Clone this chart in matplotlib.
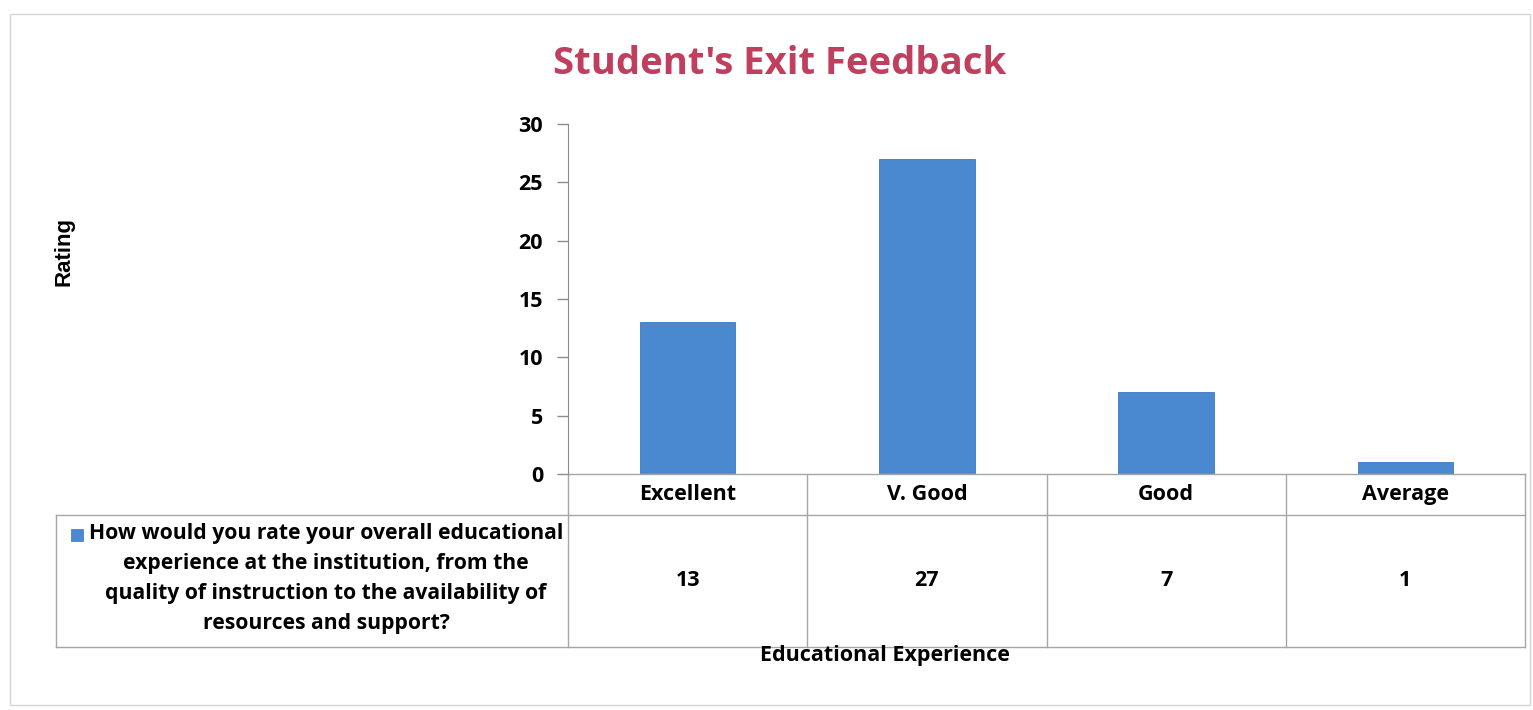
import matplotlib
matplotlib.use("Agg")
import matplotlib.pyplot as plt
from matplotlib.patches import Rectangle

# data
categories = ['Excellent', 'V. Good', 'Good', 'Average']
ratings = [13, 27, 7, 1]
series_label = ['How would you rate your overall educational',
                'experience at the institution, from the',
                'quality of instruction to the availability of',
                'resources and support?']
y_ticks = [0, 5, 10, 15, 20, 25, 30]

plt.rcParams['font.family'] = ['Open Sans', 'DejaVu Sans']
plt.rcParams['font.weight'] = 'bold'

W, H = 1533, 710
fig = plt.figure(figsize=(W / 100, H / 100), dpi=100)
fig.patch.set_facecolor('white')

bar_color = '#4A89D0'
grid_color = '#a6a6a6'
fs = 15.5


def fx(px):
    return px / W


def fy(py):
    return 1 - py / H


# faint outer border of the chart area
fig.patches.append(Rectangle((fx(10), fy(705)), fx(1520), 691 / H, transform=fig.transFigure,
                             fill=False, edgecolor='#d4d4d4', lw=1.0))

ax = fig.add_axes([fx(568), fy(474), fx(1525) - fx(568), (474 - 124) / H])
x = range(len(categories))
ax.bar(x, ratings, width=0.4, color=bar_color, edgecolor='#3C78BC', lw=0.6)
ax.set_xlim(-0.5, len(categories) - 0.5)
ax.set_ylim(0, 30)
ax.set_yticks(y_ticks)
ax.set_xticks([])
ax.tick_params(axis='y', length=8, width=1, color='#8c8c8c', labelsize=fs, pad=10)
for lab in ax.get_yticklabels():
    lab.set_fontweight('bold')
for s in ['top', 'right', 'bottom']:
    ax.spines[s].set_visible(False)
ax.spines['left'].set_color('#8c8c8c')
ax.patch.set_alpha(0)

# data table below the plot
line_kw = dict(color=grid_color, lw=1.0, clip_on=False)
tr = ax.get_xaxis_transform()
axh = 474 - 124
row1 = -(515 - 474) / axh
row2 = -(647 - 474) / axh
n = len(categories)
label_left = -0.5 - (568 - 56) / ((1525 - 568) / n)
ax.plot([-0.5, n - 0.5], [0, 0], transform=tr, **line_kw)
ax.plot([label_left, n - 0.5], [row1, row1], transform=tr, **line_kw)
ax.plot([label_left, n - 0.5], [row2, row2], transform=tr, **line_kw)
ax.plot([label_left, label_left], [row1, row2], transform=tr, **line_kw)
for i in range(n + 1):
    ax.plot([i - 0.5, i - 0.5], [0, row2], transform=tr, **line_kw)

for i, (c, v) in enumerate(zip(categories, ratings)):
    ax.text(i, row1 / 2, c, transform=tr, ha='center', va='center', fontsize=fs, fontweight='bold')
    ax.text(i, (row1 + row2) / 2, str(v), transform=tr, ha='center', va='center',
            fontsize=fs, fontweight='bold')

# series label (legend) cell
line_texts = []
for k, line in enumerate(series_label):
    t = fig.text(fx(326), fy(534 + 30 * k), line, ha='center', va='center',
                 fontsize=15.2, fontweight='bold')
    line_texts.append(t)

fig.canvas.draw()
bb = line_texts[0].get_window_extent()
sq = 12
fig.patches.append(Rectangle(((bb.x0 - sq - 6) / W, fy(535) - sq / 2 / H), sq / W, sq / H,
                             transform=fig.transFigure, facecolor=bar_color, edgecolor='#3C78BC', lw=0.5))

fig.text(fx(780), fy(64), "Student's Exit Feedback", ha='center', va='center',
         fontsize=27.5, fontweight='bold', color='#C03E5E')
fig.text(fx(64), fy(252), 'Rating', rotation=90, ha='center', va='center',
         fontsize=16, fontweight='bold', family=['Liberation Sans', 'DejaVu Sans'])
fig.text(fx(885), fy(655), 'Educational Experience', ha='center', va='center',
         fontsize=fs, fontweight='bold')

fig.savefig('out.png', dpi=100)
